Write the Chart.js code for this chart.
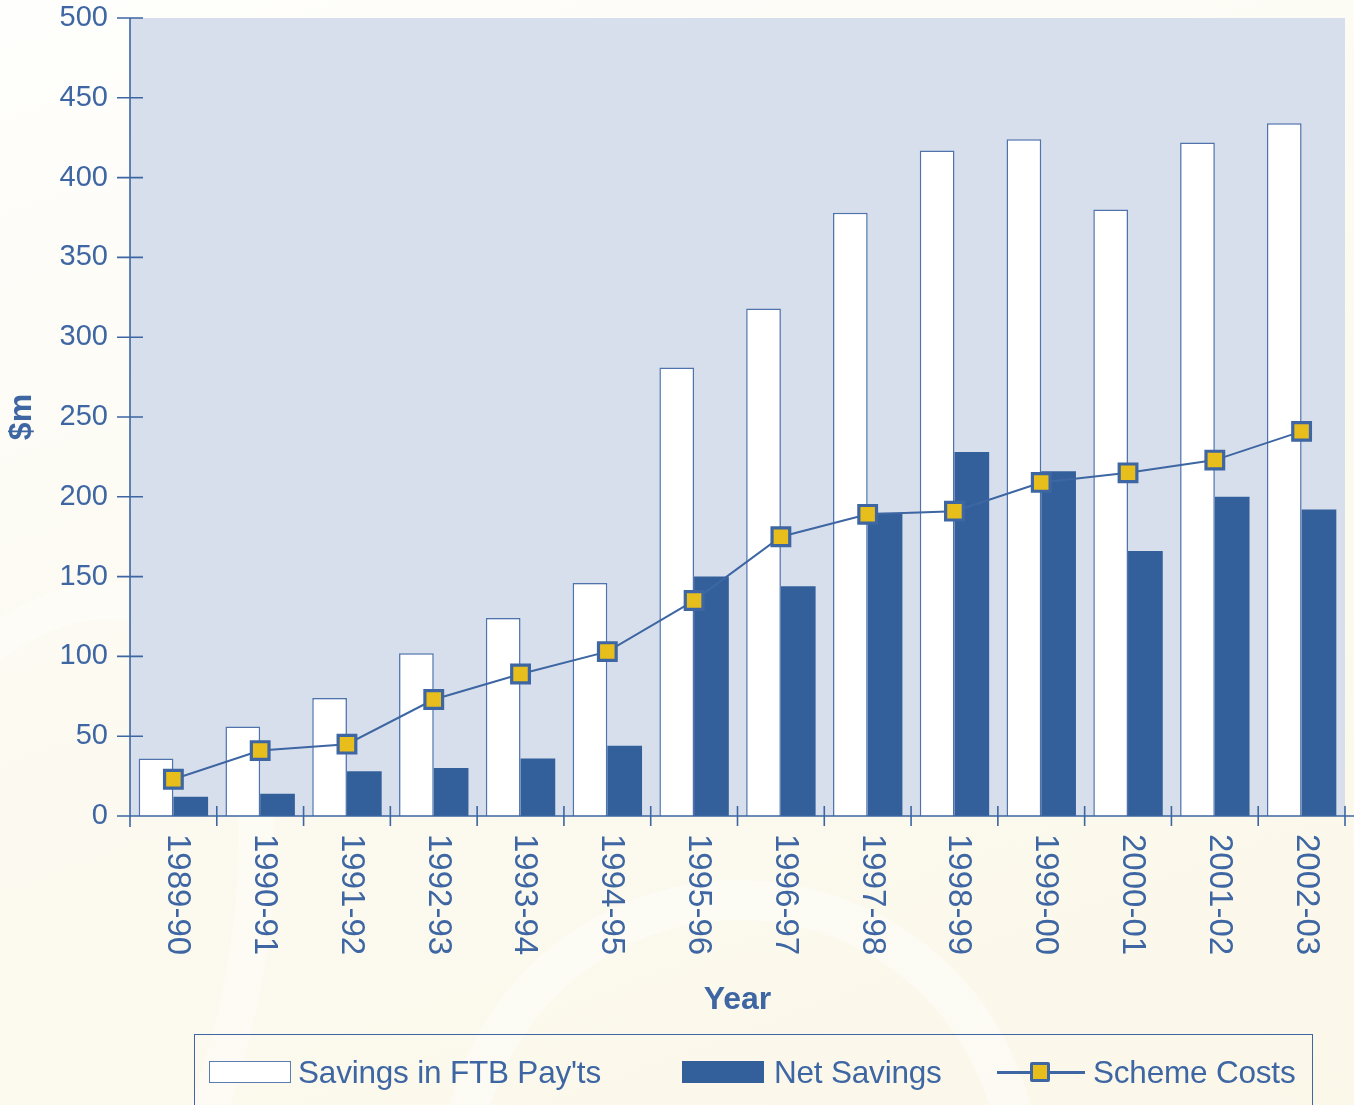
<!DOCTYPE html>
<html>
<head>
<meta charset="utf-8">
<script src="https://cdn.jsdelivr.net/npm/chart.js@4.4.1/dist/chart.umd.min.js"></script>
<style>
  html, body { margin: 0; padding: 0; }
  body {
    width: 1354px; height: 1105px; overflow: hidden; position: relative;
    background: linear-gradient(160deg, #fefefc 0%, #fcfaf1 45%, #fbf7e9 100%);
    font-family: "Liberation Sans", Arial, sans-serif;
  }
  .swoosh { position: absolute; border-radius: 50%; pointer-events: none; }
  #chart { position: absolute; left: 0; top: 0; }
  #legend {
    position: absolute; left: 194px; top: 1034px; width: 1119px; height: 90px;
    border: 1.5px solid #3d66a3; box-sizing: border-box;
    color: #3d66a3; font-size: 31.5px; letter-spacing: -0.2px;
  }
  .item { position: absolute; top: 19px; display: flex; align-items: center; height: 36px; }
  .sw { width: 82px; height: 22px; box-sizing: border-box; margin-right: 7px; }
  .sw.white { background: #fff; border: 1.5px solid #5a7db3; }
  .sw.dark { background: #33609b; margin-right: 10px; }
  .linekey { position: relative; width: 88px; height: 22px; margin-right: 8px; }
  .linekey .ln { position: absolute; left: 0; right: 0; top: 10px; height: 2.5px; background: #3d66a3; }
  .linekey .mk { position: absolute; left: 33px; top: 1px; width: 20px; height: 20px; box-sizing: border-box;
                 background: #e8be1c; border: 3.5px solid #3d66a3; border-radius: 2px; }
</style>
</head>
<body>
<div class="swoosh" style="left:-260px; top:560px; width:420px; height:900px; border:38px solid rgba(255,255,255,0.35); transform:rotate(20deg);"></div>
<div class="swoosh" style="left:440px; top:880px; width:520px; height:520px; border:40px solid rgba(255,255,255,0.4);"></div>
<canvas id="chart" width="1354" height="1105"></canvas>
<div id="legend">
  <div class="item" style="left:14px"><div class="sw white"></div>Savings in FTB Pay'ts</div>
  <div class="item" style="left:487px"><div class="sw dark"></div>Net Savings</div>
  <div class="item" style="left:802px"><div class="linekey"><div class="ln"></div><div class="mk"></div></div>Scheme Costs</div>
</div>
<script>
// Financial years on the horizontal axis
const years = ['1989-90', '1990-91', '1991-92', '1992-93', '1993-94', '1994-95', '1995-96',
               '1996-97', '1997-98', '1998-99', '1999-00', '2000-01', '2001-02', '2002-03'];

// $m per year
const ftbSavings = [36, 56, 74, 102, 124, 146, 281, 318, 378, 417, 424, 380, 422, 434];
const netSavings = [12, 14, 28, 30, 36, 44, 150, 144, 190, 228, 216, 166, 200, 192];
const schemeCosts = [23, 41, 45, 73, 89, 103, 135, 175, 189, 191, 209, 215, 223, 241];

// y axis ticks 0..500 by 50
const yTicks = [0, 50, 100, 150, 200, 250, 300, 350, 400, 450, 500];

const ink = '#3d66a3';

// plot fill, axis lines, crossing tick marks and vertical year labels
const axisDecor = {
    id: 'axisDecor',
    beforeDatasetsDraw(chart) {
        const { ctx, chartArea: a } = chart;
        ctx.save();
        ctx.fillStyle = '#d8dfec';
        ctx.fillRect(a.left, a.top, a.right - a.left, a.bottom - a.top);
        ctx.restore();
    },
    afterDatasetsDraw(chart) {
        const { ctx, chartArea: a, scales } = chart;
        const x = scales.x, y = scales.y;
        ctx.save();
        ctx.strokeStyle = ink;
        ctx.lineWidth = 1.6;
        ctx.beginPath();
        ctx.moveTo(a.left, a.top);
        ctx.lineTo(a.left, a.bottom + 11);
        ctx.moveTo(a.left - 13, a.bottom);
        ctx.lineTo(chart.width, a.bottom);
        yTicks.forEach(v => {
            const py = y.getPixelForValue(v);
            ctx.moveTo(a.left - 13, py);
            ctx.lineTo(a.left + 13, py);
        });
        const step = (a.right - a.left) / years.length;
        for (let i = 1; i <= years.length; i++) {
            const px = a.left + i * step;
            ctx.moveTo(px, a.bottom - 10);
            ctx.lineTo(px, a.bottom + 10);
        }
        ctx.stroke();

        ctx.fillStyle = ink;
        ctx.font = '33px "Liberation Sans", Arial, sans-serif';
        ctx.textAlign = 'left';
        ctx.textBaseline = 'middle';
        years.forEach((lab, i) => {
            const px = x.getPixelForTick(i);
            ctx.save();
            ctx.translate(px + 4, a.bottom + 18);
            ctx.rotate(Math.PI / 2);
            ctx.fillText(lab, 0, 0);
            ctx.restore();
        });
        ctx.restore();
    }
};

new Chart(document.getElementById('chart'), {
    data: {
        labels: years,
        datasets: [
            {
                type: 'line',
                label: 'Scheme Costs',
                data: schemeCosts,
                order: 0,
                borderColor: ink,
                borderWidth: 2,
                pointStyle: 'rect',
                pointRadius: 12.5,
                pointBackgroundColor: '#e8be1c',
                pointBorderColor: ink,
                pointBorderWidth: 3.2,
                tension: 0
            },
            {
                type: 'bar',
                label: "Savings in FTB Pay'ts",
                data: ftbSavings,
                order: 1,
                backgroundColor: '#ffffff',
                borderColor: '#4f74ad',
                borderWidth: 1.5,
                categoryPercentage: 0.8,
                barPercentage: 1.0
            },
            {
                type: 'bar',
                label: 'Net Savings',
                data: netSavings,
                order: 1,
                backgroundColor: '#33609b',
                borderWidth: 0,
                categoryPercentage: 0.8,
                barPercentage: 1.0
            }
        ]
    },
    options: {
        responsive: false,
        animation: false,
        layout: { autoPadding: false, padding: { top: 18, right: 9, left: 0, bottom: 0 } },
        plugins: { legend: { display: false }, tooltip: { enabled: false } },
        scales: {
            x: {
                grid: { display: false, drawTicks: false },
                border: { display: false },
                ticks: { display: false },
                title: {
                    display: true, text: 'Year', color: ink,
                    font: { family: '"Liberation Sans", Arial, sans-serif', size: 32, weight: 'bold' },
                    padding: { top: 0, bottom: 86 }
                },
                afterFit(scale) {
                    scale.height = 289;
                    scale.paddingLeft = 0;
                    scale.paddingRight = 0;
                }
            },
            y: {
                min: 0, max: 500,
                grid: { display: false, drawTicks: true, tickLength: 13 },
                border: { display: false },
                ticks: {
                    stepSize: 50, padding: 9, color: ink,
                    font: { family: '"Liberation Sans", Arial, sans-serif', size: 29 }
                },
                title: {
                    display: true, text: '$m', color: ink,
                    font: { family: '"Liberation Sans", Arial, sans-serif', size: 32, weight: 'bold' },
                    padding: { top: 3, bottom: 0 }
                },
                afterFit(scale) {
                    scale.width = 130;
                    scale.paddingTop = 0;
                    scale.paddingBottom = 0;
                }
            }
        }
    },
    plugins: [axisDecor]
});
</script>
</body>
</html>
